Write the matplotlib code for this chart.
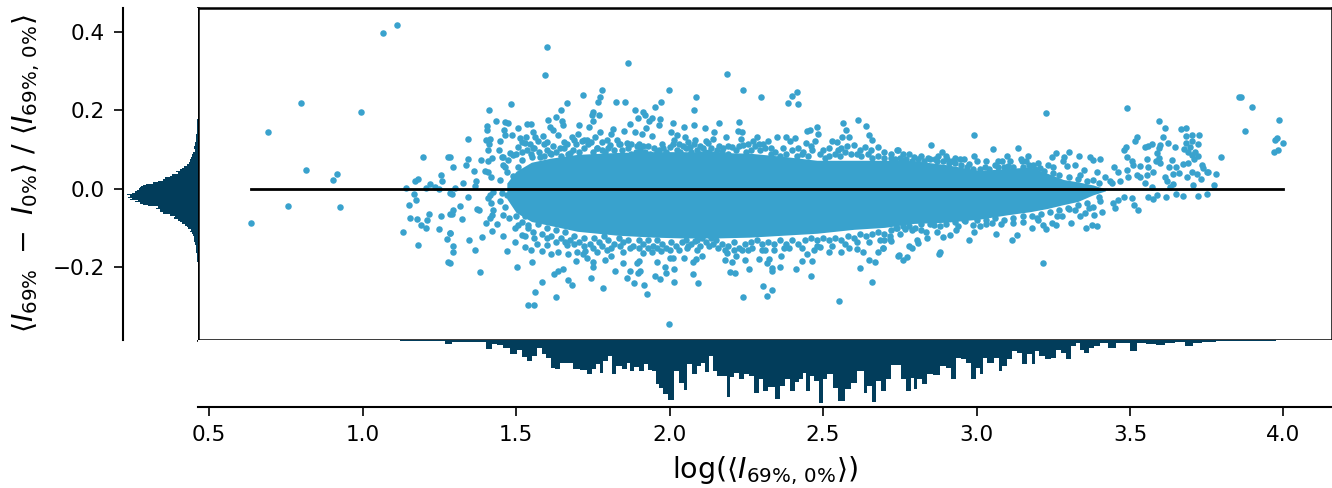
import numpy as np
import matplotlib
matplotlib.use("Agg")
import matplotlib.pyplot as plt

# values
# the solid middle of the cloud can't be read dot by dot, so it is an envelope band
core_x = [1.47, 1.50, 1.55, 1.61, 1.70, 1.83, 1.95, 2.045, 2.15, 2.26, 2.37, 2.48, 2.60,
          2.70, 2.795, 2.90, 3.01, 3.10, 3.175, 3.23, 3.283, 3.33, 3.38, 3.42]
core_hi = [.015, .045, .068, .078, .088, .093, .095, .095, .093, .091, .083, .073, .073,
           .073, .072, .062, .047, .052, .056, .04, .024, .018, .01, 0]
core_lo = [-.025, -.06, -.083, -.093, -.108, -.118, -.123, -.125, -.125, -.123, -.118, -.113, -.103,
           -.098, -.088, -.085, -.077, -.066, -.058, -.05, -.04, -.032, -.015, -.005]

pts_left = [(0.636,-.086),(0.691,.144),(0.798,.218),(0.758,-.043),(0.815,.047),(0.916,.039),(0.904,.022),
    (0.927,-.045),(0.996,.195),(1.066,.398),(1.111,.418),(1.196,.082),(1.280,.081),(1.255,.036),(1.258,.020),
    (1.180,.025),(1.171,.019),(1.142,.002),(1.206,.003),(1.220,.012),(1.236,.006),(1.250,0),(1.166,-.014),
    (1.173,-.028),(1.151,-.042),(1.153,-.075),(1.179,-.076),(1.217,-.064),(1.209,-.079),(1.257,-.070),
    (1.189,-.093),(1.208,-.099),(1.248,-.103),(1.132,-.110),(1.180,-.144),(1.274,-.127),(1.280,-.187),
    (1.285,-.065),(1.285,-.113),(1.285,-.011)]

pts_top = [(1.866,.322),(1.593,.289),(1.60,.362),(2.187,.294),(2.238,.251),(1.997,.251),(1.780,.251),(1.774,.235),(1.767,.222),
    (1.718,.240),(2.087,.234),(2.299,.234),(2.415,.246),(2.400,.238),(2.387,.220),(2.417,.217),(1.482,.216),
    (1.411,.201),(1.667,.218),(1.648,.200),(1.825,.222),(1.856,.222),(1.972,.221),(1.953,.210),(1.889,.201),
    (2.080,.200),(1.913,.195),(1.921,.189),(1.771,.189),(1.752,.197),(1.746,.189),(1.434,.173),(1.464,.171),
    (1.475,.168),(1.603,.176),(1.631,.182),(1.651,.172),(1.654,.163),(1.752,.173),(1.704,.162),(1.897,.180),
    (1.943,.180),(1.934,.173),(1.969,.179),(1.966,.162),(1.871,.165),(2.010,.168),(2.081,.162),(2.048,.159),
    (2.161,.167),(2.227,.170),(2.117,.155),(2.614,.176),(2.564,.167),(2.639,.161),(2.576,.150),(2.482,.158),
    (2.485,.141),(2.458,.150),(2.449,.147),(2.651,.137),(2.661,.124),(2.563,.133),(2.584,.132),(2.379,.133),
    (2.350,.132),(2.321,.122),(2.284,.132),(2.273,.122),(2.222,.148),(2.236,.145),(2.233,.128),(2.185,.132),
    (2.146,.144),(2.143,.127),(2.119,.123),(2.083,.124),(2.052,.132),(2.023,.137),(2.004,.146),(1.943,.134),
    (1.922,.155),(1.909,.140),(1.887,.146),(1.852,.147),(1.815,.152),(1.808,.140),(1.775,.145),(1.756,.133),
    (1.738,.159),(1.683,.133),(1.702,.140),(1.638,.137),(1.611,.159),(1.622,.150),(1.554,.146),(1.537,.166),
    (1.550,.165),(1.507,.155),(1.460,.150),(1.464,.137),(1.406,.161),(1.406,.150),(1.343,.127),(1.401,.125),
    (1.415,.127),(1.449,.121),(1.412,.115),(1.410,.099),(1.445,.099),(1.488,.138),(1.513,.129),(1.533,.132),
    (1.563,.132),(1.589,.135),(1.573,.121),(1.285,.081),(1.295,.056),(1.343,.076),(1.337,.060),(1.363,.046),
    (1.385,.074),(1.423,.080),(1.408,.071),(1.399,.046),(1.410,.042),(1.420,.031),(1.447,.023),(1.369,.020),
    (1.326,.015),(1.457,.061),(1.453,.082),(1.472,.044),(1.302,.002),(1.366,.008),(2.240,.112),(2.740,.098),
    (2.637,.106),(2.678,.106),(2.544,.119),(2.528,.121),(2.474,.123),(2.445,.116),(2.430,.088),(2.393,.121),
    (2.409,.129),(2.601,.112),(2.577,.110),(2.548,.098),(2.175,.105),(2.205,.108),(2.126,.116),(1.491,.032),
    (1.464,.057),(1.475,.074),(1.491,.087),(1.508,.057),(1.518,.074),(1.459,.082),(1.480,.091),(1.508,.106),
    (1.529,.116),(1.556,.104),(1.551,.082),(1.578,.082),(1.611,.091),(1.643,.104),(1.676,.091),(1.714,.121),
    (1.730,.125),(1.763,.104),(1.806,.112),(1.860,.116),(1.893,.110),(1.915,.110),(1.958,.095),(2.002,.108),
    (2.045,.110),(2.067,.106),(2.088,.100),(2.116,.095)]

pts_bottom = [(1.381,-.211),(1.348,-.131),(1.389,-.123),(1.366,-.155),(1.296,-.160),(1.296,-.145),(1.285,-.188),
    (1.285,-.112),(1.316,-.043),(1.296,-.053),(1.290,-.064),(1.325,-.077),(1.372,-.050),(1.378,-.054),(1.343,-.020),
    (1.290,-.013),(1.401,-.088),(1.423,-.107),(1.437,-.090),(1.458,-.120),(1.471,-.158),(1.503,-.200),(1.553,-.185),
    (1.538,-.295),(1.560,-.297),(1.562,-.263),(1.585,-.238),(1.631,-.276),(1.625,-.216),(1.638,-.209),(1.654,-.204),
    (1.669,-.233),(1.681,-.245),(1.745,-.228),(1.784,-.253),(1.860,-.227),(1.885,-.240),(1.916,-.244),(1.925,-.267),
    (1.952,-.223),(1.970,-.229),(1.999,-.343),(2.015,-.236),(2.093,-.239),(2.077,-.217),(2.240,-.276),(2.306,-.247),
    (2.316,-.273),(2.333,-.257),(2.551,-.285),(2.661,-.238),(2.460,-.221),(2.411,-.204),(2.360,-.200),(2.334,-.202),
    (2.335,-.209),(2.259,-.205),(2.213,-.214),(2.197,-.211),(2.619,-.201),(2.649,-.182),(2.668,-.186),(2.744,-.171),
    (1.871,-.208),(1.821,-.210),(1.896,-.213),(1.904,-.208),(1.985,-.200),(1.989,-.213),(2.015,-.204),(1.847,-.189),
    (1.893,-.189),(1.900,-.183),(1.752,-.198),(1.752,-.186),(1.695,-.184),(1.730,-.177),(1.790,-.181),(1.808,-.172),
    (1.669,-.166),(1.637,-.161),(1.614,-.166),(1.698,-.160),(1.717,-.166),(1.763,-.161),(1.795,-.155),(1.529,-.149),
    (1.548,-.155),(1.584,-.157),(1.600,-.143),(1.497,-.136),(1.569,-.141),(1.665,-.143),(1.725,-.157),(1.850,-.160),
    (1.915,-.164),(1.942,-.162),(1.958,-.185),(1.971,-.157),(2.002,-.175),(2.010,-.175),(2.048,-.177),(2.078,-.185),
    (2.086,-.178),(2.058,-.151),(2.088,-.155),(2.107,-.170),(2.083,-.134),(2.130,-.145),(2.159,-.150),(2.182,-.181),
    (2.204,-.185),(2.215,-.172),(2.186,-.164),(2.246,-.181),(2.292,-.178),(2.311,-.155),(2.316,-.189),(2.324,-.178),
    (2.255,-.155),(2.235,-.155),(2.373,-.151),(2.363,-.172),(2.431,-.183),(2.463,-.183),(2.449,-.166),(2.471,-.156),
    (2.490,-.147),(2.518,-.162),(2.559,-.162),(2.584,-.150),(2.611,-.154),(2.629,-.162),(2.680,-.160),(2.694,-.151),
    (2.718,-.128),(2.685,-.130),(1.415,-.015),(1.410,-.024),(1.417,-.036),(1.448,-.032),(1.464,-.045),(1.426,-.055),
    (1.421,-.066),(1.415,-.075),(1.459,-.066),(1.478,-.075),(1.502,-.045),(1.518,-.053),(1.529,-.070),(1.508,-.092),
    (1.497,-.100),(1.518,-.117),(1.540,-.092),(1.491,-.024),(1.470,-.015),(1.453,-.011),(1.426,-.007)]

pts_right = [(3.225,.193),(2.991,.138),(2.852,.113),(2.744,.098),(3.053,.101),(3.136,.105),(2.888,.093),(2.796,.082),
    (2.993,.084),(2.947,.077),(3.098,.084),(3.169,.084),(3.144,.077),(3.147,.070),(3.258,.091),(3.246,.081),
    (3.302,.094),(3.333,.084),(3.370,.081),(3.381,.074),(3.403,.076),(3.286,.081),(3.281,.070),(3.294,.059),
    (3.234,.061),(3.320,.060),(3.489,.207),(3.596,.173),(3.613,.155),(3.522,.132),(3.517,.121),(3.487,.108),
    (3.482,.098),(3.489,.082),(3.549,.106),(3.571,.115),(3.557,.110),(3.609,.133),(3.623,.116),(3.598,.112),
    (3.593,.104),(3.589,.091),(3.593,.078),(3.585,.070),(3.598,.065),(3.555,.077),(3.647,.106),(3.638,.074),
    (3.665,.153),(3.682,.156),(3.684,.136),(3.701,.138),(3.724,.138),(3.682,.116),(3.701,.121),(3.721,.115),
    (3.676,.101),(3.696,.106),(3.690,.095),(3.712,.095),(3.701,.087),(3.720,.084),(3.707,.076),(3.798,.081),
    (3.672,.063),(3.690,.065),(3.734,.061),(3.739,.053),(3.750,.044),(3.755,.042),(3.779,.037),(3.685,.031),
    (3.701,.042),(3.717,.038),(3.730,.025),(3.704,.009),(3.774,.009),(3.628,.057),(3.650,.057),(3.658,.040),
    (3.641,.038),(3.614,.031),(3.620,.021),(3.639,.012),(3.631,.006),(3.752,-.014),(3.720,-.019),(3.673,-.017),
    (3.651,-.012),(3.617,-.020),(3.587,-.015),(3.576,-.026),(3.560,-.020),(3.571,.006),(3.549,.015),(3.533,.059),
    (3.506,.070),(3.511,.061),(3.489,.047),(3.522,.036),(3.495,.031),(3.560,.057),(3.576,.044),(3.555,.036),
    (3.533,.031),(3.449,.055),(3.462,.042),(3.419,.031),(3.392,.042),(3.350,.047),(3.337,.036),(3.381,.023),
    (3.468,.019),(3.435,.019),(3.527,-.055),(3.513,-.042),(3.508,-.024),(3.479,-.021),(3.451,-.048),(3.443,-.037),
    (3.462,-.028),(3.408,-.058),(3.394,-.095),(3.375,-.092),(3.356,-.099),(3.307,-.087),(3.384,-.066),(3.354,-.062),
    (3.337,-.069),(3.321,-.055),(3.299,-.049),(3.403,-.032),(3.381,-.045),(3.365,-.049),(3.215,-.190),(3.258,-.092),
    (3.245,-.088),(3.227,-.103),(3.215,-.093),(3.182,-.099),(3.196,-.075),(3.261,-.069),(3.133,-.117),(3.116,-.129),
    (3.063,-.115),(2.976,-.130),(2.890,-.123),(2.839,-.125),(2.881,-.160),(2.878,-.167),(2.749,-.168),(2.762,-.181),
    (2.773,-.174),(2.780,-.145),(2.789,-.151),(2.805,-.131),(2.809,-.138),(2.719,-.121),(2.721,-.132),(2.694,-.151),
    (2.993,-.109),(2.990,-.092),(3.031,-.090),(3.052,-.087),(3.120,-.087),(2.963,-.083),(2.914,-.117),(2.934,-.104),
    (2.860,-.092),(2.836,-.109),(2.789,-.104),(2.767,-.103),(2.738,-.099),(2.757,.074),(2.843,.078),(2.865,.077),
    (2.903,.076),(2.919,.072),(2.974,.064),(3.028,.057),(3.061,.061),(3.082,.072),(3.104,.059),(3.185,.061),(3.207,.053),
    (3.86,.234),(3.855,.233),(3.896,.209),(3.874,.148),(3.985,.175),(3.979,.130),(3.973,.125),(3.997,.117),
    (3.968,.094),(3.983,.098)]

# dots along the rough rim of the solid band
pts_rim_up = [(1.50,.09),(1.52,.095),(1.535,.10),(1.55,.09),(1.56,.105),(1.575,.095),(1.59,.085),(1.60,.10),(1.615,.09),
    (1.63,.095),(1.645,.085),(1.655,.105),(1.67,.09),(1.685,.10),(1.695,.115),(1.705,.095),(1.72,.105),(1.735,.115),
    (1.75,.095),(1.765,.105),(1.78,.10),(1.79,.095),(1.80,.105),(1.82,.10),(1.835,.115),(1.845,.10),(1.865,.105),
    (1.875,.09),(1.89,.095),(1.905,.10),(1.92,.095),(1.935,.09),(1.95,.105),(1.965,.10),(1.98,.105),(1.99,.095),
    (2.01,.115),(2.025,.10),(2.035,.095),(2.055,.105),(2.07,.095),(2.08,.115),(2.10,.09),(2.11,.105),(2.13,.095),
    (2.145,.09),(2.155,.10),(2.17,.095),(2.19,.09),(2.215,.10),(2.225,.11),(2.25,.095),(2.265,.10),(2.28,.11),
    (2.295,.10),(2.31,.105),(2.33,.09),(2.345,.095),(2.36,.085),(2.38,.09),(2.40,.10),(2.415,.085),(2.435,.095),
    (2.45,.085),(2.465,.10),(2.49,.09),(2.505,.08),(2.52,.085),(2.54,.09),(2.555,.085),(2.57,.095),(2.59,.09),
    (2.61,.09),(2.625,.085),(2.645,.09),(2.66,.08),(2.68,.085),(2.70,.08),(2.72,.08),(2.735,.075),(2.75,.08),
    (2.77,.075),(2.79,.07),(2.81,.075),(2.83,.07),(2.85,.075),(2.87,.07),(2.89,.07),(2.91,.065),(2.93,.065),
    (2.95,.06),(2.97,.055),(2.99,.05),(3.01,.05),(3.04,.05),(3.07,.055),(3.09,.055),(3.12,.055),(3.15,.055),
    (3.17,.06),(3.19,.05),(3.22,.045),(3.25,.04),(3.27,.035),(3.30,.03),(3.33,.025),(3.36,.02),(3.40,.015),(3.44,.015),
    (1.52,.12),(1.545,.115),(1.59,.115),(1.60,.12),(1.62,.11),(1.655,.12),(1.665,.115),(1.69,.125),(1.72,.125),
    (1.745,.12),(1.78,.12),(1.795,.125),(1.83,.125),(1.84,.115),(1.875,.115),(1.90,.115),(1.93,.11),(1.975,.115),
    (2.015,.125),(2.03,.115),(2.06,.12),(2.10,.11),(2.135,.105),(2.16,.11),(2.19,.11),(2.255,.115),(2.29,.115),
    (2.305,.115),(2.33,.105),(2.37,.105),(2.42,.105),(2.46,.11),(2.50,.10),(2.52,.105),(2.56,.105),(2.62,.10),
    (2.655,.10),(2.70,.095),(2.72,.09),(2.76,.09),(2.78,.09),(2.82,.085),(2.875,.085),(2.90,.085),(2.93,.08),
    (2.96,.075),(3.00,.07),(3.03,.07),(3.07,.07),(3.11,.07),(3.16,.07),(3.20,.065),(3.25,.055)]

pts_rim_low = [(1.50,-.07),(1.52,-.085),(1.54,-.10),(1.555,-.11),(1.57,-.09),(1.585,-.115),(1.60,-.10),(1.615,-.12),
    (1.63,-.105),(1.645,-.125),(1.66,-.11),(1.675,-.13),(1.69,-.12),(1.705,-.135),(1.72,-.125),(1.74,-.14),(1.755,-.125),
    (1.77,-.135),(1.785,-.12),(1.80,-.13),(1.82,-.14),(1.835,-.125),(1.85,-.135),(1.865,-.13),(1.88,-.145),(1.90,-.13),
    (1.915,-.14),(1.93,-.13),(1.945,-.145),(1.96,-.13),(1.975,-.14),(1.99,-.15),(2.005,-.135),(2.02,-.145),(2.04,-.135),
    (2.055,-.13),(2.07,-.14),(2.09,-.13),(2.105,-.125),(2.12,-.135),(2.135,-.125),(2.15,-.13),(2.17,-.14),(2.19,-.145),
    (2.21,-.135),(2.225,-.15),(2.245,-.14),(2.265,-.135),(2.285,-.13),(2.30,-.14),(2.32,-.135),(2.34,-.14),(2.36,-.13),
    (2.38,-.14),(2.40,-.13),(2.42,-.14),(2.44,-.13),(2.46,-.125),(2.48,-.13),(2.50,-.125),(2.52,-.13),(2.54,-.125),
    (2.56,-.13),(2.58,-.12),(2.60,-.125),(2.62,-.115),(2.64,-.12),(2.66,-.115),(2.68,-.11),(2.70,-.115),(2.72,-.105),
    (2.74,-.10),(2.76,-.095),(2.78,-.095),(2.80,-.10),(2.82,-.09),(2.85,-.09),(2.88,-.095),(2.90,-.09),(2.93,-.085),
    (2.96,-.08),(3.00,-.08),(3.03,-.08),(3.06,-.075),(3.09,-.08),(3.12,-.075),(3.15,-.07),(3.18,-.07),(3.21,-.065),
    (3.24,-.06),(3.27,-.055),(3.30,-.05),(3.33,-.04),(3.36,-.035),(3.40,-.02),
    (1.53,-.12),(1.56,-.125),(1.60,-.125),(1.63,-.135),(1.66,-.135),(1.69,-.14),(1.72,-.145),(1.75,-.15),(1.78,-.145),
    (1.81,-.15),(1.84,-.145),(1.87,-.15),(1.90,-.15),(1.93,-.15),(1.96,-.15),(2.00,-.155),(2.03,-.155),(2.06,-.145),
    (2.10,-.145),(2.14,-.14),(2.18,-.155),(2.21,-.155),(2.27,-.15),(2.30,-.155),(2.34,-.155),(2.39,-.15),(2.43,-.15),
    (2.48,-.145),(2.53,-.145),(2.57,-.14),(2.61,-.135),(2.65,-.135),(2.70,-.13),(2.75,-.115),(2.82,-.105),(2.87,-.11),
    (2.94,-.095),(3.01,-.095),(3.08,-.09),(3.15,-.085),(3.20,-.08),(3.28,-.07)]

# histogram under the scatter: x position, bar height
hist_x = [1.122,1.187,1.252,1.285,1.301,1.393,1.410,1.431,1.448,1.469,1.491,1.513,1.524,1.545,1.556,1.578,1.589,1.605,
    1.621,1.632,1.654,1.676,1.697,1.719,1.741,1.752,1.768,1.779,1.790,1.806,1.817,1.833,1.855,1.866,1.877,1.893,1.909,
    1.926,1.936,1.953,1.958,1.974,1.985,2.007,2.023,2.039,2.053,2.061,2.083,2.094,2.110,2.121,2.134,2.148,2.164,2.181,
    2.195,2.202,2.216,2.235,2.251,2.267,2.284,2.300,2.311,2.333,2.352,2.365,2.385,2.403,2.414,2.430,2.438,2.449,2.463,
    2.479,2.496,2.506,2.523,2.539,2.561,2.582,2.601,2.620,2.631,2.636,2.653,2.663,2.680,2.696,2.712,2.729,2.750,2.761,
    2.781,2.792,2.799,2.815,2.832,2.848,2.870,2.891,2.913,2.924,2.940,2.957,2.973,2.991,3.005,3.016,3.027,3.043,3.071,
    3.076,3.092,3.109,3.125,3.141,3.157,3.174,3.185,3.195,3.212,3.233,3.250,3.266,3.282,3.302,3.315,3.331,3.342,3.358,
    3.375,3.391,3.413,3.445,3.467,3.489,3.513,3.532,3.575,3.597,3.630,3.662,3.695,3.717,3.749,3.814,3.977]
hist_n = [1,1,1,4,2,2,9,4,5,8,14,10,17,21,16,8,14,18,
    28,29,23,23,29,30,34,29,24,33,21,16,34,26,29,23,31,27,31,
    24,30,31,44,48,54,60,31,43,50,24,34,26,23,32,16,31,36,36,
    57,37,33,39,34,36,53,39,51,47,59,46,39,51,42,39,33,51,36,
    41,63,39,34,48,61,49,43,31,31,53,46,62,41,51,39,25,25,39,
    51,38,49,39,44,34,35,26,28,39,18,19,23,39,28,34,18,23,18,
    31,26,19,11,13,24,14,24,11,16,19,18,10,13,19,6,3,10,13,
    8,6,3,8,3,3,11,3,4,5,3,2,6,3,2,1,1]

# histogram left of the scatter
ratio_y = [.19,.165,.146,.135,.125,.116,.105,.098,.091,.085,.078,.072,.066,.061,.057,.052,.048,.044,.040,.036,.032,.028,
    .023,.019,.014,.011,.009,.006,.004,0,-.004,-.008,-.012,-.015,-.018,-.021,-.024,-.027,-.030,-.032,-.036,-.040,-.043,
    -.046,-.050,-.054,-.058,-.062,-.066,-.070,-.074,-.078,-.083,-.087,-.091,-.096,-.100,-.105,-.109,-.113,-.118,-.124,
    -.130,-.140,-.148,-.155,-.170,-.185]
ratio_n = [.3,.7,1.3,2,2.5,3,4,3.5,4.7,6,7,8,9,11,14,16,18,22,20,26,28,33,
    35,40,45,52,55,57,58,59,61,63,66,71,68,70,66,68,60,63,58,55,50,
    40,42,38,38,35,28,23,24,20,18,16,13,11,10,7,8,6,5.5,4.5,
    4,3,2.5,2,1,.7]

xticks = [0.5, 1.0, 1.5, 2.0, 2.5, 3.0, 3.5, 4.0]
yticks = [-0.2, 0.0, 0.2, 0.4]

dot_col = '#39a2cd'
hist_col = '#023d5b'

W, H = 1332, 488
fig = plt.figure(figsize=(W/100, H/100), dpi=100)
ax = fig.add_axes([198/W, (H-340)/H, (W-198)/W, 332/H])
ax_l = fig.add_axes([123/W, (H-340)/H, 75/W, 332/H])
ax_b = fig.add_axes([198/W, (H-407)/H, (W-198)/W, 67/H])

xlim = (0.464, 4.158)
ylim = (-0.385, 0.461)

pts = pts_left + pts_top + pts_bottom + pts_right + pts_rim_up + pts_rim_low
ax.fill_between(core_x, core_lo, core_hi, color=dot_col, lw=0, zorder=2)
ax.scatter([p[0] for p in pts], [p[1] for p in pts], s=22, color=dot_col, lw=0, zorder=2)
ax.plot([0.636, 4.0], [0, 0], color='k', lw=2, zorder=3)
ax.set_xlim(xlim)
ax.set_ylim(ylim)
ax.set_xticks([])
ax.set_yticks([])
for s in ax.spines.values():
    s.set_linewidth(1.8)

ax_l.fill_betweenx(ratio_y, ratio_n, 0, color=hist_col, lw=0, step='mid')
ax_l.set_xlim(75, 0)
ax_l.set_ylim(ylim)
ax_l.set_xticks([])
ax_l.set_yticks(yticks)
ax_l.set_yticklabels(['\u22120.2', '0.0', '0.2', '0.4'])
ax_l.tick_params(axis='y', labelsize=15.5, length=6.5, width=1.2, pad=6.5)
for s in ['top', 'right', 'bottom']:
    ax_l.spines[s].set_visible(False)
ax_l.spines['left'].set_linewidth(1.5)
ax_l.set_ylabel(r'$\langle I_{69\%}\ -\ I_{0\%}\rangle\ /\ \langle I_{69\%,\,0\%}\rangle$', fontsize=20.5)
ax_l.yaxis.set_label_coords(-1.08, 0.5)

ax_b.fill_between(hist_x, hist_n, 0, color=hist_col, lw=0, step='mid')
ax_b.set_xlim(xlim)
ax_b.set_ylim(67, 0)
ax_b.set_yticks([])
ax_b.set_xticks(xticks)
ax_b.set_xticklabels(['%.1f' % t for t in xticks])
ax_b.tick_params(axis='x', labelsize=15.5, length=6.5, width=1.2, pad=6.5)
for s in ['top', 'right', 'left']:
    ax_b.spines[s].set_visible(False)
ax_b.spines['bottom'].set_linewidth(1.5)
ax_b.set_xlabel(r'$\log(\langle I_{69\%,\,0\%}\rangle)$', fontsize=20.5, labelpad=7)

fig.savefig('out.png', dpi=100)
